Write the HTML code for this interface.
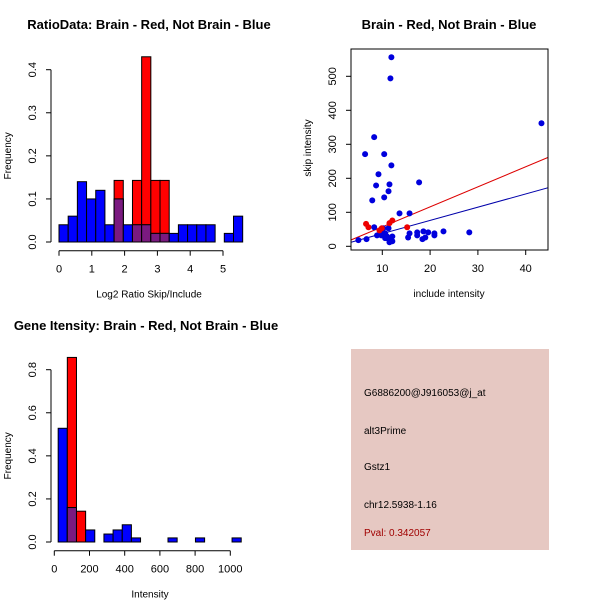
<!DOCTYPE html>
<html><head><meta charset="utf-8"><style>
html,body{margin:0;padding:0;background:#fff}
svg{display:block;font-family:"Liberation Sans",sans-serif}
</style></head><body>
<svg id="c" width="600" height="600" xmlns="http://www.w3.org/2000/svg">
<rect width="600" height="600" fill="#fff"/>
<text x="149" y="29" font-size="13" font-weight="bold" text-anchor="middle">RatioData: Brain - Red, Not Brain - Blue</text>
<text x="449" y="29" font-size="13" font-weight="bold" text-anchor="middle">Brain - Red, Not Brain - Blue</text>
<text x="146" y="330" font-size="13" font-weight="bold" text-anchor="middle">Gene Itensity: Brain - Red, Not Brain - Blue</text>
<rect x="351" y="349" width="198" height="201" fill="#e6c8c2"/>
<g font-size="10">
<text x="364" y="396">G6886200@J916053@j_at</text>
<text x="364" y="434">alt3Prime</text>
<text x="364" y="470">Gstz1</text>
<text x="364" y="508">chr12.5938-1.16</text>
<text x="364" y="536" fill="#a00000">Pval: 0.342057</text>
</g>
</svg>
<script>
// Panel 1 data (ratio histogram)
const ratioBinStart = 0;
const ratioBinWidth = 0.28;
const ratioBlue = [0.04,0.06,0.14,0.10,0.12,0.04,0.10,0.04,0.04,0.04,0.02,0.02,0.02,0.04,0.04,0.04,0.04,0,0.02,0.06];
const ratioRed = [0,0,0,0,0,0,0.143,0,0.143,0.43,0.143,0.143,0,0,0,0,0,0,0,0];
const ratioXTicks = [0,1,2,3,4,5];
const ratioYTicks = [0,0.1,0.2,0.3,0.4];
// Panel 3 data (intensity histogram)
const intBinStart = 22;
const intBinWidth = 52;
const intBlue = [0.528,0.16,0,0.056,0,0.037,0.056,0.08,0.019,0,0,0,0.019,0,0,0.019,0,0,0,0.019];
const intRed = [0,0.857,0.143,0,0,0,0,0,0,0,0,0,0,0,0,0,0,0,0,0];
const intXTicks = [0,200,400,600,800,1000];
const intYTicks = [0,0.2,0.4,0.6,0.8];
// Panel 2 data (scatter)
const blueX = [11.9,11.7,43.3,8.3,6.4,10.4,11.9,9.2,8.7,11.5,11.3,10.4,7.9,17.7,13.6,15.7,5.0,6.7,8.3,8.9,9.8,10.2,10.6,10.6,11.3,11.0,11.7,11.5,12.1,12.1,15.4,15.7,17.3,17.3,18.4,18.6,19.0,19.6,20.9,20.9,22.8,28.2,9.8,10.9];
const blueY = [556,494,362,321,271,271,238,212,179,182,162,144,135,188,97,97,18,21,56,32,44,53,38,24,53,29,21,12,29,15,26,38,41,32,21,44,26,41,32,38,44,41,32,24];
const redX = [6.6,7.1,9.4,9.9,11.5,12.1,15.2];
const redY = [66,56,47,53,68,76,56];
const fitRed = [-1.7,5.89];   // intercept, slope
const fitBlue = [-1.6,3.89];
const scatXTicks = [10,20,30,40];
const scatYTicks = [0,100,200,300,400,500];

const svg = document.getElementById('c');
const NS = 'http://www.w3.org/2000/svg';
function mk(tag, attrs, parent){const e=document.createElementNS(NS,tag);for(const k in attrs)e.setAttribute(k,attrs[k]);(parent||svg).appendChild(e);return e;}

function hist(opts){
  const {x0px,x1px,v0,v1,y0px,y1px,yv1,start,width,blue,red,xt,yt,xTitle,xAxisY,prefix} = opts;
  const sx=v=>x0px+(v-v0)*(x1px-x0px)/(v1-v0);
  const sy=v=>y0px-(v)*(y0px-y1px)/yv1;
  const g=mk('g',{});
  
  
  for(let i=0;i<blue.length;i++){
    const a=sx(start+i*width), b=sx(start+(i+1)*width);
    const bl=blue[i], rd=red[i], ov=Math.min(bl,rd);
    if(rd>0){const r=mk('rect',{x:a,y:sy(rd),width:b-a,height:sy(0)-sy(rd),fill:'#ff0000',stroke:'#000','stroke-width':1},g);
      
      }
    if(bl>0){const r=mk('rect',{x:a,y:sy(bl),width:b-a,height:sy(0)-sy(bl),fill:'#0000ff',stroke:'#000','stroke-width':1},g);
      
      }
    if(ov>0){const r=mk('rect',{x:a,y:sy(ov),width:b-a,height:sy(0)-sy(ov),fill:'#7a1a80',stroke:'#000','stroke-width':1},g);
      
      }
  }
  const yl=opts.yAxisX;
  mk('line',{x1:yl,x2:yl,y1:sy(yt[0]),y2:sy(yt[yt.length-1]),stroke:'#000'},g);
  yt.forEach(t=>{mk('line',{x1:yl-5,x2:yl,y1:sy(t),y2:sy(t),stroke:'#000'},g);
    const lx=yl-15;
    const tx=mk('text',{x:lx,y:sy(t),'font-size':11,'text-anchor':'middle',transform:`rotate(-90 ${lx} ${sy(t)})`},g);tx.textContent=t.toFixed(1);
    
    });
  mk('line',{x1:sx(xt[0]),x2:sx(xt[xt.length-1]),y1:xAxisY,y2:xAxisY,stroke:'#000'},g);
  xt.forEach(t=>{mk('line',{x1:sx(t),x2:sx(t),y1:xAxisY,y2:xAxisY+5,stroke:'#000'},g);
    const tx=mk('text',{x:sx(t),y:xAxisY+22,'font-size':11,'text-anchor':'middle'},g);tx.textContent=t;
    
    });
  const xtl=mk('text',{x:opts.xTitleX,y:xAxisY+47,'font-size':10,'text-anchor':'middle'},g);xtl.textContent=xTitle;
  
  
  const cy=(sy(yt[0])+sy(yt[yt.length-1]))/2;
  const ytl=mk('text',{x:11,y:cy,'font-size':10,'text-anchor':'middle',transform:`rotate(-90 11 ${cy})`},g);ytl.textContent='Frequency';
  
  
}
hist({x0px:59,x1px:223,v0:0,v1:5,y0px:242,y1px:69.7,yv1:0.4,start:ratioBinStart,width:ratioBinWidth,blue:ratioBlue,red:ratioRed,xt:ratioXTicks,yt:ratioYTicks,xTitle:'Log2 Ratio Skip/Include',xAxisY:250.7,yAxisX:51,xTitleX:149,prefix:'ratio'});
hist({x0px:54.3,x1px:230.3,v0:0,v1:1000,y0px:542,y1px:369.7,yv1:0.8,start:intBinStart,width:intBinWidth,blue:intBlue,red:intRed,xt:intXTicks,yt:intYTicks,xTitle:'Intensity',xAxisY:550.7,yAxisX:51,xTitleX:150,prefix:'intensity'});

(function(){
  const sx=v=>382.3+(v-10)*(525.7-382.3)/30;
  const sy=v=>246.3-v*(246.3-76.3)/500;
  const g=mk('g',{});
  
  
  const clip=mk('clipPath',{id:'sc'},g);mk('rect',{x:351,y:49,width:197,height:201},clip);
  const xmin=3.44,xmax=44.7;
  [[fitRed,'#dd0000','red-fit-line'],[fitBlue,'#0000aa','blue-fit-line']].forEach(([f,c,n])=>{
    const l=mk('line',{x1:sx(xmin),y1:sy(f[0]+f[1]*xmin),x2:sx(xmax),y2:sy(f[0]+f[1]*xmax),stroke:c,'stroke-width':1,'clip-path':'url(#sc)'},g);
    
    
  });
  blueX.forEach((x,i)=>{const p=mk('circle',{cx:sx(x),cy:sy(blueY[i]),r:3,fill:'#0000dd'},g);
    
    });
  redX.forEach((x,i)=>{const p=mk('circle',{cx:sx(x),cy:sy(redY[i]),r:3,fill:'#ee0000'},g);
    
    });
  const b=mk('rect',{x:351,y:49,width:197,height:201,fill:'none',stroke:'#000'},g);
  
  
  scatXTicks.forEach(t=>{mk('line',{x1:sx(t),x2:sx(t),y1:250,y2:255,stroke:'#000'},g);
    const tx=mk('text',{x:sx(t),y:272,'font-size':11,'text-anchor':'middle'},g);tx.textContent=t;
    
    });
  scatYTicks.forEach(t=>{mk('line',{x1:346,x2:351,y1:sy(t),y2:sy(t),stroke:'#000'},g);
    const tx=mk('text',{x:336,y:sy(t),'font-size':11,'text-anchor':'middle',transform:`rotate(-90 336 ${sy(t)})`},g);tx.textContent=t;
    
    });
  const xt=mk('text',{x:449,y:297,'font-size':10,'text-anchor':'middle'},g);xt.textContent='include intensity';
  
  
  const yt=mk('text',{x:311,y:148,'font-size':10,'text-anchor':'middle',transform:'rotate(-90 311 148)'},g);yt.textContent='skip intensity';
  
  
})();
</script>
</body></html>
